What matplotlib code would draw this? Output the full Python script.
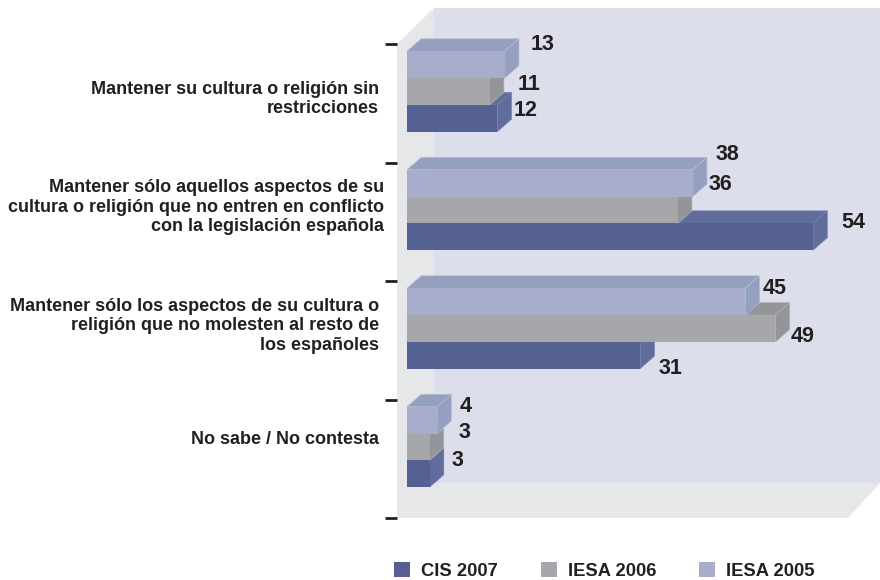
import matplotlib
matplotlib.use('Agg')
import matplotlib.pyplot as plt

# Values
categories = ['Mantener su cultura o religión sin\nrestricciones',
              'Mantener sólo aquellos aspectos de su\ncultura o religión que no entren en conflicto\ncon la legislación española',
              'Mantener sólo los aspectos de su cultura o\nreligión que no molesten al resto de\nlos españoles',
              'No sabe / No contesta']
cis_2007 = [12, 54, 31, 3]
iesa_2006 = [11, 36, 49, 3]
iesa_2005 = [13, 38, 45, 4]
series_names = ['CIS 2007', 'IESA 2006', 'IESA 2005']

plt.rcParams['font.family'] = ['Liberation Sans', 'DejaVu Sans']

W, H = 880, 580
fig = plt.figure(figsize=(W/100, H/100), dpi=100)
fig.patch.set_facecolor('white')

# Pixel axes for the walls of the 3D box
bg = fig.add_axes([0, 0, 1, 1])
bg.set_xlim(0, W)
bg.set_ylim(H, 0)
bg.axis('off')
bg.fill([434, 880, 880, 434], [8, 8, 483, 483], color='#dcdeeb', lw=0)
bg.fill([397, 434, 434, 397], [44, 8, 483, 518], color='#e6e7e8', lw=0)
bg.fill([397, 434, 880, 848], [518, 483, 483, 518], color='#e6e7e8', lw=0)

# Data axes: 0 at x=407 px, 7.52 px per unit, groups 118.5 px apart
px_x = 7.52
left, top, bottom = 397, 44, 518
ax = fig.add_axes([left/W, 1-bottom/H, (W-left)/W, (bottom-top)/H])
ax.patch.set_alpha(0)
ax.set_xlim(-(407-left)/px_x, (W-407)/px_x)
ax.set_ylim(3.5, -0.5)
for s in ax.spines.values():
    s.set_visible(False)
ax.xaxis.set_visible(False)
ax.set_yticks([-0.5, 0.5, 1.5, 2.5, 3.5])
ax.set_yticklabels([])
ax.tick_params(axis='y', length=8.5, width=2, color='#231f20', direction='out')

px_y = (bottom-top)/4.0
bar_h = 26.8/px_y
dx = 14.2/px_x
dy = 12.5/px_y

series = [cis_2007, iesa_2006, iesa_2005]
fronts = ['#546192', '#a5a7aa', '#a8adcb']
sides = ['#5f6c9c', '#939598', '#959fbf']
edges = ['#7480ab', '#b0b2b5', '#b9bdd6']
base = 0.24
offsets = [base, base-bar_h, base-2*bar_h]

# Lowest bar of each group first, the upper ones hide its top face
for values, front, side, edge, off, name in zip(series, fronts, sides, edges, offsets, series_names):
    for i, v in enumerate(values):
        y0 = i + off
        y1 = y0 - bar_h
        ax.fill([0, dx, v+dx, v], [y1, y1-dy, y1-dy, y1], color=side, lw=0.5, ec=edge, clip_on=False)
        ax.fill([v, v+dx, v+dx, v], [y0, y0-dy, y1-dy, y1], color=side, lw=0.5, ec=edge, clip_on=False)
    ax.barh([i + off - bar_h/2 for i in range(4)], values, height=bar_h, color=front, label=name)

# Category labels
label_x = [379, 384, 379, 379]
label_y = [99, 207, 326, 439]
for name, x, y in zip(categories, label_x, label_y):
    bg.text(x, y, name, ha='right', va='center', fontsize=13, fontweight='bold',
            color='#231f20', linespacing=1.2)

# Value labels
label_pos = [
    [(526, 111), (853, 223), (670, 368), (457, 460)],
    [(529, 85), (720, 185), (803, 336), (464, 432)],
    [(543, 45), (727, 154), (775, 288), (466, 406)],
]
for values, positions in zip(series, label_pos):
    for v, (x, y) in zip(values, positions):
        ax.text(x, y, str(v), transform=bg.transData, ha='center', va='center',
                fontsize=15.5, fontweight='bold', color='#231f20', clip_on=False)

leg = ax.legend(loc='lower left', bbox_to_anchor=(392/W, -2/H), bbox_transform=fig.transFigure,
                ncols=3, frameon=False, fontsize=13.2, borderpad=0.1, borderaxespad=0,
                handlelength=0.88, handleheight=0.88, handletextpad=0.6, columnspacing=2.34)
for t in leg.get_texts():
    t.set_fontweight('bold')
    t.set_color('#231f20')

fig.savefig('out.png', dpi=100)
